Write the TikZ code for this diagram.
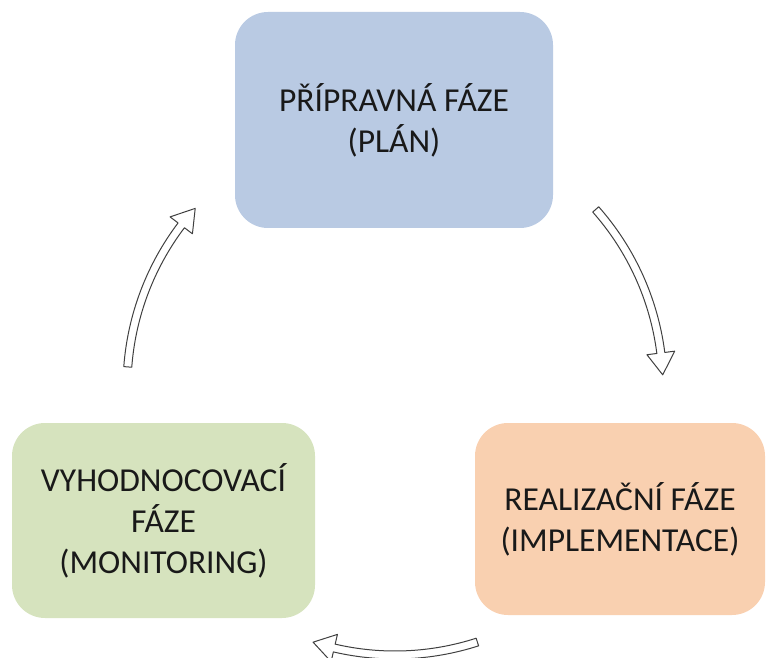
\documentclass[tikz,border=0pt]{standalone}
\usepackage{fontspec}
\setmainfont{Carlito}
\usetikzlibrary{calc}
\definecolor{planfill}{HTML}{B9CAE3}
\definecolor{realfill}{HTML}{F9D0B0}
\definecolor{monfill}{HTML}{D6E3BE}
\tikzset{
  phase/.style={rounded corners=33pt, inner sep=0pt, align=center,
    font=\fontsize{33.5}{41}\selectfont, text=black!90},
  cyclearrow/.style={draw=black!75, line width=1pt, fill=white, line join=round}
}
% #1 start angle, #2 tip angle (clockwise around the coordinate cyc)
\newcommand\cycarrow[2]{%
  \draw[cyclearrow, shift={(cyc)}]
    (#1:272pt) arc[start angle=#1, end angle=#2+4.7, radius=272pt]
    -- (#2+4.7:282pt) -- (#2:268pt) -- (#2+4.7:254pt) -- (#2+4.7:264pt)
    arc[start angle=#2+4.7, end angle=#1, radius=264pt] -- cycle;}
\begin{document}
\begin{tikzpicture}[x=1pt,y=1pt]
\useasboundingbox (0,0) rectangle (768,657);
\node[phase, fill=planfill, minimum width=318pt, minimum height=216pt] (plan) at (394,537)
  {PŘÍPRAVNÁ FÁZE\\(PLÁN)};
\node[phase, fill=realfill, minimum width=290pt, minimum height=192pt] (real) at (620,138)
  {REALIZAČNÍ FÁZE\\(IMPLEMENTACE)};
\node[phase, fill=monfill, minimum width=303pt, minimum height=195pt] (mon) at (163.5,136.5)
  {VYHODNOCOVACÍ\\FÁZE\\(MONITORING)};
\coordinate (cyc) at (395,270);
\cycarrow{41.5}{2.6}
\cycarrow{-72.1}{-107.8}
\cycarrow{175.7}{138.2}
\end{tikzpicture}
\end{document}
